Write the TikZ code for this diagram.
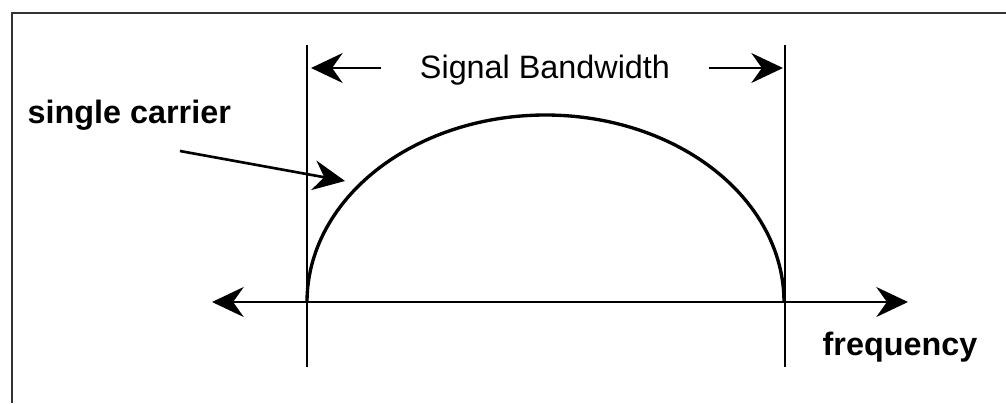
\documentclass[tikz,border=0pt]{standalone}
\usepackage{fontspec}
\setmainfont{Liberation Sans}
\usetikzlibrary{arrows.meta}

\begin{document}
\begin{tikzpicture}[x=0.01cm, y=-0.01cm,
  line/.style={black, line width=0.75pt},
  tip/.style={-{Stealth[length=9pt, width=8.5pt, inset=3pt]}},
  lbl/.style={font=\fontsize{9.2}{11}\selectfont, inner sep=0pt}]
  \useasboundingbox (0,0) rectangle (1006,403);
  % frame (cut off at right and bottom)
  \draw[black!80, line width=0.65pt] (12,403) -- (12,13) -- (1006,13);
  % band edges
  \coordinate (ltop) at (307,45);
  \coordinate (lbot) at (307,367);
  \coordinate (rtop) at (785,45);
  \coordinate (rbot) at (785,367);
  \draw[line] (ltop) -- (lbot);
  \draw[line] (rtop) -- (rbot);
  % frequency axis
  \coordinate (axl) at (212,302);
  \coordinate (axr) at (908,302);
  \draw[line, {Stealth[length=9pt, width=8.5pt, inset=3pt]}-{Stealth[length=9pt, width=8.5pt, inset=3pt]}] (axl) -- (axr);
  % carrier spectrum
  \draw[line, line width=0.95pt] plot[domain=180:0, samples=90, smooth]
    ({545.5+238.5*cos(\x)}, {302-187*sin(\x)});
  % labels
  \node[lbl, anchor=base] (bw) at (545,78) {Signal Bandwidth};
  \node[lbl, anchor=base west, font=\fontsize{9.2}{11}\selectfont\bfseries] (sc) at (27,123) {single carrier};
  \node[lbl, anchor=base west, font=\fontsize{9.2}{11}\selectfont\bfseries] (fq) at (822,355) {frequency};
  % bandwidth arrows
  \coordinate (bwl) at (311,68);
  \coordinate (bwr) at (783,68);
  \draw[line, tip] ([xshift=-0.38cm]bw.west |- bwl) -- (bwl);
  \draw[line, tip] ([xshift=0.38cm]bw.east |- bwr) -- (bwr);
  % pointer to the curve
  \coordinate (sct) at (345,181);
  \draw[line, tip] (180,151) -- (sct);
\end{tikzpicture}
\end{document}
